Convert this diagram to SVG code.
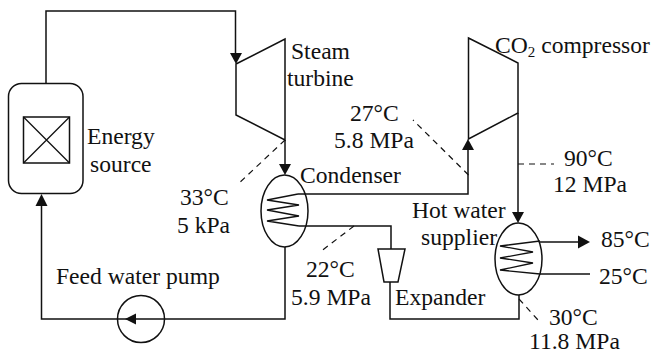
<svg xmlns="http://www.w3.org/2000/svg" width="654" height="354" viewBox="0 0 654 354">
<style>
text{font-family:"Liberation Serif","Times New Roman",serif;font-size:23.6px;fill:#111}
.l{fill:none;stroke:#111;stroke-width:1.5}
.t{fill:none;stroke:#111;stroke-width:1.3}
.d{fill:none;stroke:#111;stroke-width:1.2;stroke-dasharray:6 5}
.a{fill:#111;stroke:none}
.s{font-size:15px}
</style>
<rect width="654" height="354" fill="#fff"/>
<g id="connectors">
<path class="l" d="M46 83V11H235.500V56"/>
<polygon class="a" points="230,53 242,53 236,64"/>
<path class="l" d="M285 140V166"/>
<polygon class="a" points="279,164 291,164 285,175"/>
<path class="l" d="M285 247V319H41.500V200"/>
<polygon class="a" points="35.500,206 47.500,206 41.500,194"/>
<path class="l" d="M298 194H468V148"/>
<polygon class="a" points="462,150 474,150 468,139"/>
<path class="l" d="M518 113V212"/>
<polygon class="a" points="512,212 524,212 518,223"/>
<path class="l" d="M299 226H391V249"/>
<path class="l" d="M390 282V319H519V295"/>
<path class="l" d="M540 242H580"/>
<polygon class="a" points="578,235.500 590,242 578,248.500"/>
<path class="l" d="M540 274H590"/>
<path class="d" d="M285 140L237 185"/>
<path class="d" d="M468.500 175L413 120"/>
<path class="d" d="M518 164H554"/>
<path class="d" d="M354 226L320 252"/>
<path class="d" d="M519 299L538 320"/>
</g>
<g id="energy-source">
<rect class="l" x="8.500" y="83.500" width="74.500" height="110" rx="13"/>
<rect class="l" x="23.500" y="117" width="46" height="46"/>
<path class="t" d="M23.500 117L69.500 163M69.500 117L23.500 163"/>
<text x="87" y="144">Energy</text><text x="90" y="172">source</text>
</g>
<g id="steam-turbine">
<path class="l" d="M236 64L285 39V140L236 115Z"/>
<text x="291" y="59">Steam</text><text x="287" y="86">turbine</text>
</g>
<g id="co2-compressor">
<path class="l" d="M468.500 38L518 63V113L468.500 139Z"/>
<text x="495" y="53">CO<tspan class="s" dy="4">2</tspan><tspan dy="-4"> compressor</tspan></text>
</g>
<g id="condenser">
<ellipse class="l" cx="284.500" cy="211" rx="23.500" ry="36"/>
<path class="t" d="M298 194L267 200L299 205L267 210L299 216L267 221L299 226"/>
<text x="300" y="183">Condenser</text>
</g>
<g id="feed-water-pump">
<circle class="l" cx="141" cy="319" r="23.500"/>
<polygon class="a" points="125,319 136,313.500 136,324.500"/>
<text x="56" y="284">Feed water pump</text>
</g>
<g id="expander">
<path class="l" d="M378 249H405L398 282H384Z"/>
<text x="395" y="305">Expander</text>
</g>
<g id="hot-water-supplier">
<ellipse class="l" cx="518.500" cy="259" rx="23.500" ry="36"/>
<path class="t" d="M540 241L500 246L533 252L500 258L533 263L500 270L540 274"/>
<text x="412" y="218">Hot water</text><text x="421" y="245">supplier</text>
</g>
<g id="labels">
<text x="350" y="121">27°C</text><text x="334" y="148">5.8 MPa</text>
<text x="564" y="166">90°C</text><text x="553" y="192">12 MPa</text>
<text x="180" y="205">33°C</text><text x="177" y="233">5 kPa</text>
<text x="306" y="277">22°C</text><text x="291" y="305">5.9 MPa</text>
<text x="601" y="247">85°C</text><text x="599" y="284">25°C</text>
<text x="549" y="325">30°C</text><text x="529" y="349">11.8 MPa</text>
</g>
</svg>
